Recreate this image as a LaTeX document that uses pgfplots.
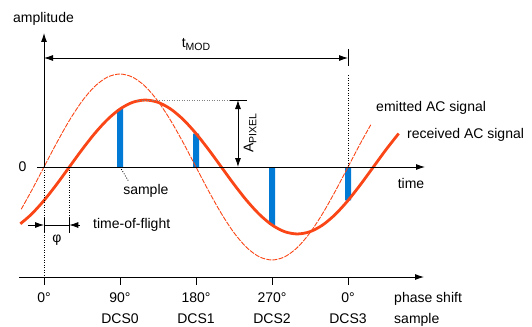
\documentclass[border=0pt]{standalone}
\usepackage{pgfplots}
\pgfplotsset{compat=1.18}
\usepackage{fontspec}
\setmainfont{Liberation Sans}
\usetikzlibrary{arrows.meta}
\definecolor{sig}{RGB}{250,70,22}
\definecolor{barblue}{RGB}{0,122,212}
\tikzset{
  ar/.style={line width=0.8pt},
  dots/.style={line width=0.8pt, dash pattern=on 0.9pt off 1.6pt},
  LT/.tip={Latex[length=9pt,width=6pt]}
}
\newcommand{\sub}[1]{\raisebox{-3pt}{\fontsize{10.5}{12}\selectfont #1}}
\begin{document}
\begin{tikzpicture}[every node/.style={font=\fontsize{14}{16}\selectfont, inner sep=0pt}]
\begin{axis}[width=532pt,height=325pt,scale only axis,hide axis,clip=false,
  xmin=-52.105,xmax=577.89,ymin=-1.6989,ymax=1.7957]
\path (rel axis cs:0,0) rectangle (rel axis cs:1,1);
% sample bars
\addplot[ybar, bar width=6pt, bar shift=0pt, fill=barblue, draw=none] coordinates {(90,0.6235) (180,0.36) (270,-0.6235) (360,-0.36)};
% emitted AC signal
\addplot[sig, line width=0.9pt, dash pattern=on 5pt off 1.2pt, smooth] coordinates {
(-27,-0.454) (-15,-0.2588) (0,0) (15,0.2588) (30,0.5) (45,0.7071) (60,0.8660) (75,0.9659) (90,1)
(105,0.9659) (120,0.8660) (135,0.7071) (150,0.5) (165,0.2588) (180,0) (195,-0.2588) (210,-0.5)
(225,-0.7071) (240,-0.8660) (255,-0.9659) (270,-1) (285,-0.9659) (300,-0.8660) (315,-0.7071)
(330,-0.5) (345,-0.2588) (360,0) (375,0.2588) (387,0.454)};
% received AC signal
\addplot[sig, line width=2.8pt, smooth] coordinates {
(-28,-0.6106) (-15,-0.5091) (0,-0.36) (15,-0.1863) (30,0) (45,0.1863) (60,0.36) (75,0.5091)
(90,0.6235) (105,0.6955) (120,0.72) (135,0.6955) (150,0.6235) (165,0.5091) (180,0.36)
(195,0.1863) (210,0) (225,-0.1863) (240,-0.36) (255,-0.5091) (270,-0.6235) (285,-0.6955)
(300,-0.72) (315,-0.6955) (330,-0.6235) (345,-0.5091) (360,-0.36) (375,-0.1863) (390,0)
(405,0.1863) (420,0.36)};
% axes
\draw[line width=0.9pt, -LT] (0,0) -- (0,1.4409);
\draw[line width=0.9pt, -LT] (-8.3,0) -- (451.2,0);
\draw[line width=0.9pt, -LT] (-29.6,-1.1828) -- (450,-1.1828);
\draw[line width=0.9pt] (0,-1.1828) -- (0,-1.2688);
\draw[line width=0.9pt] (90,-1.1828) -- (90,-1.2688);
\draw[line width=0.9pt] (180,-1.1828) -- (180,-1.2688);
\draw[line width=0.9pt] (270,-1.1828) -- (270,-1.2688);
\draw[line width=0.9pt] (360,-1.1828) -- (360,-1.2688);
% t_MOD
\draw[ar, LT-LT] (0,1.172) -- (360,1.172);
\draw[ar] (360,1.269) -- (360,1.086);
\draw[dots] (360,0.989) -- (360,0);
\node[anchor=base] at (180,1.2796) {t\sub{MOD}};
% A_PIXEL
\draw[dots, gray] (110,0.7204) -- (220,0.7204);
\draw[ar] (220,0.7204) -- (240.4,0.7204);
\draw[ar, LT-LT] (229.7,0.7204) -- (229.7,0);
\node[rotate=90] at (243.9,0.366) {A\sub{PIXEL}};
% time-of-flight
\draw[dots] (0,0) -- (0,-1.1828);
\draw[dots] (30,0) -- (30,-0.5376);
\draw[ar] (0,-0.5376) -- (0,-0.7097);
\draw[ar] (30,-0.5376) -- (30,-0.7097);
\draw[ar, -LT] (-18.9,-0.6237) -- (0,-0.6237);
\draw[ar] (0,-0.6237) -- (30,-0.6237);
\draw[ar, -LT] (42.6,-0.6237) -- (30,-0.6237);
\node[anchor=west] at (58,-0.6237) {time-of-flight};
\node at (15.4,-0.785) {φ};
% sample
\draw[dots] (90,0) -- (100.7,-0.161);
\node at (120.6,-0.258) {sample};
% labels
\node[anchor=base] at (-0.6,1.559) {amplitude};
\node at (-25.5,0) {0};
\node at (434.6,-0.177) {time};
\node[anchor=west] at (393.2,0.634) {emitted AC signal};
\node[anchor=west] at (429.9,0.349) {received AC signal};
\node[anchor=base] at (0,-1.462) {0°};
\node[anchor=base] at (90,-1.462) {90°};
\node[anchor=base] at (180,-1.462) {180°};
\node[anchor=base] at (270,-1.462) {270°};
\node[anchor=base] at (360,-1.462) {0°};
\node[anchor=base] at (90,-1.683) {DCS0};
\node[anchor=base] at (180,-1.683) {DCS1};
\node[anchor=base] at (270,-1.683) {DCS2};
\node[anchor=base] at (360,-1.683) {DCS3};
\node[anchor=base west] at (414.5,-1.462) {phase shift};
\node[anchor=base west] at (414.5,-1.683) {sample};
\end{axis}
\end{tikzpicture}
\end{document}
